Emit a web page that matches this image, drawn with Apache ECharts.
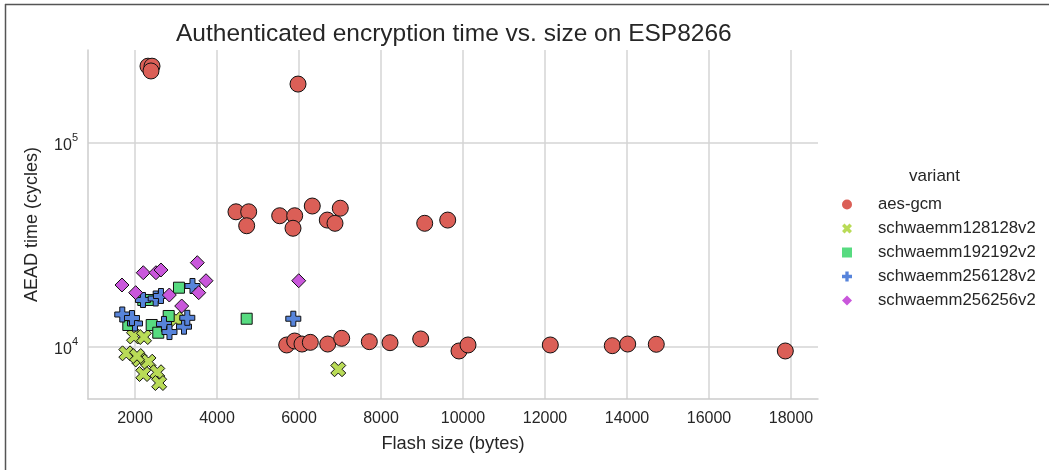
<!DOCTYPE html>
<html><head><meta charset="utf-8">
<script src="https://cdn.jsdelivr.net/npm/echarts@6/dist/echarts.min.js"></script>
<style>html,body{margin:0;padding:0;background:#fff}#c{width:1049px;height:470px}</style>
</head><body><div id="c"></div>
<script>
const variants = ['aes-gcm', 'schwaemm128128v2', 'schwaemm192192v2', 'schwaemm256128v2', 'schwaemm256256v2'];
const colors = ['#db5f57', '#b9db57', '#57db80', '#5784db', '#c957db'];

const aesGcmSize   = [2317, 2415, 2390, 5976, 4463, 4773, 4724, 5529, 5895, 5854, 6324, 6690, 6878, 7007, 9066, 9627, 5700, 5895, 6073, 6276, 6700, 7041, 7715, 8220, 8968, 9902, 10122, 12129, 13641, 14017, 14714, 17861];
const aesGcmCycles = [238000, 238000, 225500, 194500, 46000, 46000, 39300, 44000, 44000, 38200, 49100, 41900, 40400, 47900, 40400, 41900, 10230, 10700, 10340, 10540, 10340, 11030, 10620, 10500, 10950, 9560, 10230, 10230, 10150, 10340, 10310, 9560];

const s128128Size   = [1788, 1976, 2220, 2110, 2329, 2202, 2544, 2590, 6958, 3000, 2049];
const s128128Cycles = [9310, 11260, 11190, 8685, 8470, 7370, 7520, 6660, 7780, 13720, 9030];

const s192192Size   = [3073, 2822, 2407, 2568, 4724, 1837, 2202, 2366];
const s192192Cycles = [19530, 14190, 12820, 11750, 13760, 12820, 17000, 17000];

const s256128Size   = [1690, 2000, 2195, 2505, 2707, 2841, 3195, 3276, 3402, 5861, 1927, 2634];
const s256128Cycles = [14430, 13040, 17000, 17290, 12970, 11840, 12580, 13900, 19910, 13760, 13870, 17780];

const s256256Size   = [3520, 2202, 2512, 2634, 3732, 1683, 2017, 2837, 3554, 3139, 5993];
const s256256Cycles = [25900, 23130, 23130, 23850, 21130, 20130, 18460, 17980, 18460, 15880, 21130];

const sizes = [aesGcmSize, s128128Size, s192192Size, s256128Size, s256256Size];
const cycles = [aesGcmCycles, s128128Cycles, s192192Cycles, s256128Cycles, s256256Cycles];

const X_PATH = 'path://M-1,-2L0,-1L1,-2L2,-1L1,0L2,1L1,2L0,1L-1,2L-2,1L-1,0L-2,-1Z';
const PLUS_PATH = 'path://M-1,-3L1,-3L1,-1L3,-1L3,1L1,1L1,3L-1,3L-1,1L-3,1L-3,-1L-1,-1Z';
const SQUARE_PATH = 'path://M-1,-1L1,-1L1,1L-1,1Z';
const DIAMOND_PATH = 'path://M0,-1L1,0L0,1L-1,0Z';
const symbols = ['circle', X_PATH, 'rect', PLUS_PATH, 'diamond'];
const legendIcons = ['circle', X_PATH, SQUARE_PATH, PLUS_PATH, DIAMOND_PATH];
const symSizes = [16, 15, 11, 15, 14];

const FONT = '"Liberation Sans", Arial, Helvetica, sans-serif';
const TXT = '#262626';

const chart = echarts.init(document.getElementById('c'));
const series = variants.map((name, i) => ({
  name: name,
  type: 'scatter',
  symbol: symbols[i],
  symbolSize: symSizes[i],
  itemStyle: { color: colors[i], borderColor: '#111', borderWidth: 1, opacity: 1 },
  emphasis: { disabled: true },
  data: sizes[i].map((x, j) => [x, cycles[i][j]])
}));

chart.setOption({
  animation: false,
  backgroundColor: '#fff',
  textStyle: { fontFamily: FONT },
  title: [
    { text: 'Authenticated encryption time vs. size on ESP8266', left: 171, top: 17,
      textStyle: { fontFamily: FONT, fontSize: 24.5, fontWeight: 'normal', color: TXT } },
    { text: 'variant', left: 904, top: 163,
      textStyle: { fontFamily: FONT, fontSize: 17, fontWeight: 'normal', color: TXT } }
  ],
  grid: { left: 88, right: 231, top: 50, bottom: 71, containLabel: false },
  xAxis: {
    type: 'value', min: 854, max: 18658, splitNumber: 9,
    name: 'Flash size (bytes)', nameLocation: 'middle', nameGap: 36,
    nameTextStyle: { fontFamily: FONT, fontSize: 18.3, color: TXT },
    axisLine: { show: true, lineStyle: { color: '#cccccc', width: 1.5 } },
    axisTick: { show: false },
    axisLabel: { fontFamily: FONT, fontSize: 16, color: TXT, margin: 12, showMinLabel: false, showMaxLabel: false,
      formatter: function (v) { return String(Math.round(v)); } },
    splitLine: { show: true, showMinLine: false, showMaxLine: false, lineStyle: { color: '#d4d4d4', width: 1.5 } }
  },
  yAxis: {
    type: 'log', logBase: 10, min: 5560, max: 285700,
    name: 'AEAD time (cycles)', nameLocation: 'middle', nameGap: 47, nameRotate: 90,
    nameTextStyle: { fontFamily: FONT, fontSize: 18, color: TXT },
    axisLine: { show: true, lineStyle: { color: '#cccccc', width: 1.5 } },
    axisTick: { show: false },
    axisLabel: {
      fontFamily: FONT, fontSize: 16, color: TXT, margin: 10, showMinLabel: false, showMaxLabel: false,
      formatter: function (v) {
        const e = Math.round(Math.log10(v));
        if (Math.abs(Math.pow(10, e) - v) / v > 1e-6) return '';
        return '{b|10}{s|' + e + '}';
      },
      rich: {
        b: { fontFamily: FONT, fontSize: 16, color: TXT, verticalAlign: 'bottom', lineHeight: 22 },
        s: { fontFamily: FONT, fontSize: 11, color: TXT, verticalAlign: 'top', lineHeight: 22 }
      }
    },
    splitLine: { show: true, showMinLine: false, showMaxLine: false, lineStyle: { color: '#d4d4d4', width: 1.5 } }
  },
  legend: {
    orient: 'vertical', left: 837, top: 190, padding: 5,
    itemWidth: 52, itemHeight: 10, itemGap: 5,
    data: variants.map((n, i) => ({ name: n, icon: legendIcons[i] })),
    itemStyle: { borderWidth: 0 },
    textStyle: { fontFamily: FONT, fontSize: 16.7, color: TXT, lineHeight: 19 },
    selectedMode: false
  },
  graphic: [
    { type: 'line', shape: { x1: 5, y1: 4.5, x2: 1049, y2: 4.5 }, style: { stroke: '#555', lineWidth: 1.5 }, silent: true },
    { type: 'line', shape: { x1: 5.5, y1: 4, x2: 5.5, y2: 470 }, style: { stroke: '#555', lineWidth: 1.5 }, silent: true }
  ],
  series: series
});
</script></body></html>
